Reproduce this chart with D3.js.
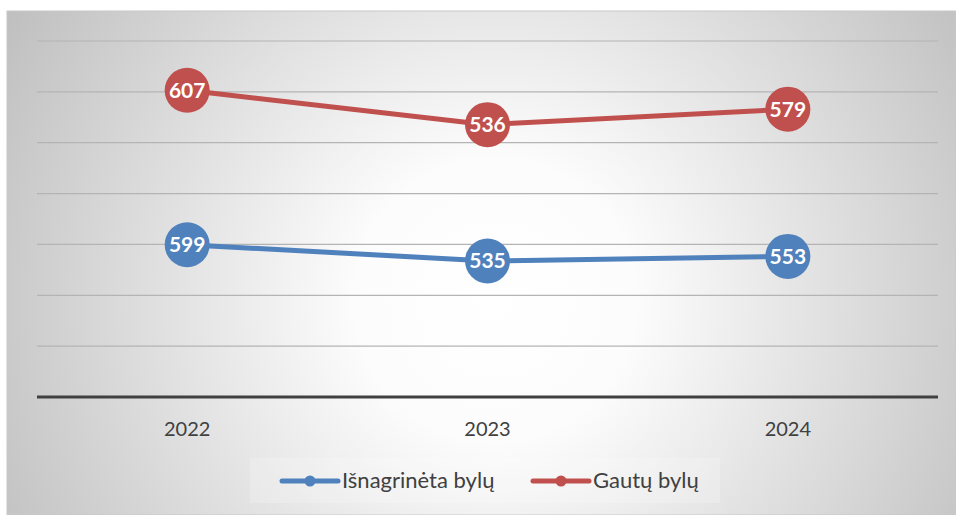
<!DOCTYPE html>
<html>
<head>
<meta charset="utf-8">
<script src="https://cdn.jsdelivr.net/npm/d3@7"></script>
<style>
  body { margin: 0; background: #fff; }
  svg { display: block; }
</style>
</head>
<body>
<svg width="956" height="515"></svg>
<script>
// stacked line chart: second series is drawn on top of the first
const years = ['2022', '2023', '2024'];
const isnagrineta = [599, 535, 553];
const gautu = [607, 536, 579];
const yTicks = [0, 200, 400, 600, 800, 1000, 1200, 1400];

const svg = d3.select('svg');

const defs = svg.append('defs');
const grad = defs.append('radialGradient')
  .attr('id', 'bg')
  .attr('gradientUnits', 'userSpaceOnUse')
  .attr('cx', 495).attr('cy', 300).attr('r', 560);
grad.append('stop').attr('offset', '0%').attr('stop-color', '#ffffff');
grad.append('stop').attr('offset', '25%').attr('stop-color', '#fcfcfc');
grad.append('stop').attr('offset', '100%').attr('stop-color', '#c0c0c0');

svg.append('rect')
  .attr('x', 7).attr('y', 11)
  .attr('width', 949).attr('height', 504)
  .attr('fill', 'url(#bg)')
  .attr('stroke', '#c8c8c8')
  .attr('stroke-width', 1);

const plotLeft = 37, plotRight = 938, plotTop = 41, plotBottom = 397;

const x = d3.scaleBand().domain(years).range([plotLeft, plotRight]);
const y = d3.scaleLinear().domain([0, 1400]).range([plotBottom, plotTop]);

// gridlines
svg.append('g')
  .selectAll('line')
  .data(yTicks.slice(1))
  .enter()
  .append('line')
  .attr('x1', plotLeft).attr('x2', plotRight)
  .attr('y1', (d) => y(d)).attr('y2', (d) => y(d))
  .attr('stroke', '#b4b4b4')
  .attr('stroke-width', 1.2);

// baseline
svg.append('line')
  .attr('x1', plotLeft).attr('x2', plotRight)
  .attr('y1', y(0)).attr('y2', y(0))
  .attr('stroke', '#404040')
  .attr('stroke-width', 3);

// x labels
svg.append('g')
  .selectAll('text')
  .data(years)
  .enter()
  .append('text')
  .attr('x', (d) => x(d) + x.bandwidth() / 2)
  .attr('y', 436)
  .attr('text-anchor', 'middle')
  .attr('font-family', 'Lato, "Open Sans", sans-serif')
  .attr('font-size', 20)
  .attr('fill', '#404040')
  .text((d) => d);

const stacked = gautu.map((v, i) => v + isnagrineta[i]);

const series = [
  { name: 'Išnagrinėta bylų', color: '#4f81bd', values: isnagrineta, pos: isnagrineta },
  { name: 'Gautų bylų', color: '#c0504d', values: gautu, pos: stacked }
];

const line = d3.line()
  .x((d, i) => x(years[i]) + x.bandwidth() / 2)
  .y((d) => y(d));

series.forEach((s) => {
  svg.append('path')
    .datum(s.pos)
    .attr('d', line)
    .attr('fill', 'none')
    .attr('stroke', s.color)
    .attr('stroke-width', 5)
    .attr('stroke-linejoin', 'round');

  const g = svg.append('g')
    .selectAll('g')
    .data(s.pos)
    .enter()
    .append('g')
    .attr('transform', (d, i) => `translate(${x(years[i]) + x.bandwidth() / 2},${y(d)})`);

  g.append('circle')
    .attr('r', 22.5)
    .attr('fill', s.color);

  g.append('text')
    .attr('text-anchor', 'middle')
    .attr('dy', 7.5)
    .attr('font-family', 'Lato, "Open Sans", sans-serif')
    .attr('font-weight', 'bold')
    .attr('font-size', 21)
    .attr('fill', '#fff')
    .text((d, i) => s.values[i]);
});

// legend
svg.append('rect')
  .attr('x', 250).attr('y', 458)
  .attr('width', 470).attr('height', 45)
  .attr('fill', '#ffffff')
  .attr('opacity', 0.2);

const legendX = [282, 533];
series.forEach((s, i) => {
  const lg = svg.append('g').attr('transform', `translate(${legendX[i]},481)`);
  lg.append('line')
    .attr('x1', 0).attr('x2', 56)
    .attr('stroke', s.color)
    .attr('stroke-width', 5)
    .attr('stroke-linecap', 'round');
  lg.append('circle')
    .attr('cx', 28).attr('r', 5.5)
    .attr('fill', s.color);
  lg.append('text')
    .attr('x', 60)
    .attr('dy', 7)
    .attr('font-family', 'Lato, "Open Sans", sans-serif')
    .attr('font-size', 22)
    .attr('fill', '#404040')
    .text(s.name);
});
</script>
</body>
</html>
